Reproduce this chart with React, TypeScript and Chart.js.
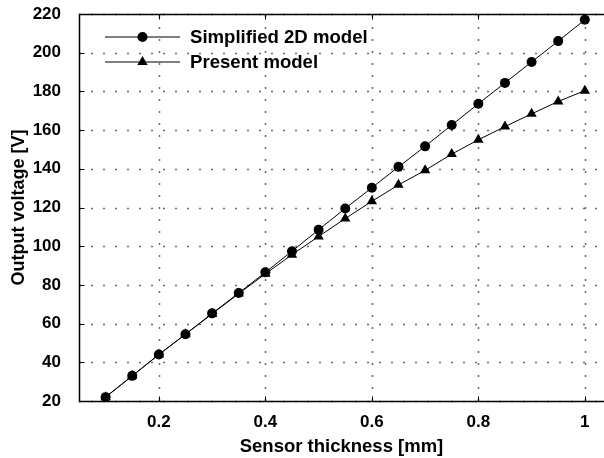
import React, { useEffect, useRef } from 'react';
import { Chart, registerables } from 'chart.js';

Chart.register(...registerables);

const thickness = [0.1, 0.15, 0.2, 0.25, 0.3, 0.35, 0.4, 0.45, 0.5, 0.55, 0.6, 0.65, 0.7, 0.75, 0.8, 0.85, 0.9, 0.95, 1.0];
const simplified2D = [22, 33, 44, 54.5, 65.3, 75.8, 86.5, 97.4, 108.5, 119.5, 130.2, 141, 151.6, 162.6, 173.6, 184.4, 195.2, 206, 217];
const presentModel = [22, 33, 44, 54.5, 65, 75.5, 85.7, 95.6, 105, 114.3, 123.2, 131.7, 139.2, 147.6, 155, 161.8, 168.4, 174.8, 180.4];

const seriesLabels = ['Simplified 2D model', 'Present model'];
const xTicks = [0.2, 0.4, 0.6, 0.8, 1];
const xTickLabels = ['0.2', '0.4', '0.6', '0.8', '1'];
const yTicks = [20, 40, 60, 80, 100, 120, 140, 160, 180, 200, 220];
const xTitle = 'Sensor thickness [mm]';
const yTitle = 'Output voltage [V]';

const FONT = '"Liberation Sans", Arial, Helvetica, sans-serif';

function drawMarker(ctx: CanvasRenderingContext2D, style: string, x: number, y: number, r: number) {
  ctx.beginPath();
  if (style === 'triangle') {
    ctx.moveTo(x, y - r);
    ctx.lineTo(x + 0.866 * r, y + 0.5 * r);
    ctx.lineTo(x - 0.866 * r, y + 0.5 * r);
    ctx.closePath();
  } else {
    ctx.arc(x, y, r, 0, Math.PI * 2);
  }
  ctx.fill();
}

const framePlugin = {
  id: 'frameGrid',
  beforeDatasetsDraw(chart: any) {
    const { ctx, chartArea } = chart;
    const { left, right, top, bottom } = chartArea;
    const xs = chart.scales.x;
    const ys = chart.scales.y;
    ctx.save();
    // dotted grid
    ctx.strokeStyle = '#6a6a6a';
    ctx.lineWidth = 1.5;
    ctx.setLineDash([2, 10]);
    xTicks.forEach((v) => {
      const px = Math.round(xs.getPixelForValue(v)) + 0.5;
      ctx.beginPath();
      ctx.moveTo(px, bottom);
      ctx.lineTo(px, top);
      ctx.stroke();
    });
    yTicks.forEach((v) => {
      const py = Math.round(ys.getPixelForValue(v)) + 0.5;
      ctx.beginPath();
      ctx.moveTo(left, py);
      ctx.lineTo(right, py);
      ctx.stroke();
    });
    ctx.setLineDash([]);
    // frame
    ctx.strokeStyle = '#000';
    ctx.lineWidth = 1.5;
    const l = Math.round(left) + 0.5;
    const t = Math.round(top) + 0.5;
    const b = Math.round(bottom) + 0.5;
    ctx.beginPath();
    ctx.moveTo(right, t);
    ctx.lineTo(l, t);
    ctx.lineTo(l, b);
    ctx.lineTo(right, b);
    ctx.stroke();
    // inward tick marks
    ctx.lineWidth = 1;
    ctx.beginPath();
    xTicks.forEach((v) => {
      const px = Math.round(xs.getPixelForValue(v)) + 0.5;
      ctx.moveTo(px, b);
      ctx.lineTo(px, b - 5);
      ctx.moveTo(px, t);
      ctx.lineTo(px, t + 5);
    });
    yTicks.forEach((v) => {
      const py = Math.round(ys.getPixelForValue(v)) + 0.5;
      ctx.moveTo(l, py);
      ctx.lineTo(l + 5, py);
    });
    ctx.stroke();
    ctx.restore();
  },
  afterDatasetsDraw(chart: any) {
    const { ctx, chartArea } = chart;
    const x0 = chartArea.left + 26;
    const x1 = x0 + 75;
    ctx.save();
    chart.data.datasets.forEach((ds: any, i: number) => {
      const y = chartArea.top + 22.5 + i * 25;
      ctx.strokeStyle = '#000';
      ctx.fillStyle = '#000';
      ctx.lineWidth = 1;
      ctx.beginPath();
      ctx.moveTo(x0, y + 0.5);
      ctx.lineTo(x1, y + 0.5);
      ctx.stroke();
      drawMarker(ctx, ds.pointStyle, (x0 + x1) / 2, y + 0.5, ds.pointRadius);
      ctx.font = `bold 18.6px ${FONT}`;
      ctx.textBaseline = 'middle';
      ctx.textAlign = 'left';
      ctx.fillText(ds.label, x1 + 10, y + 1);
    });
    ctx.restore();
  },
};

export default function App() {
  const ref = useRef<HTMLCanvasElement | null>(null);

  useEffect(() => {
    if (!ref.current) return;
    const chart = new Chart(ref.current, {
      type: 'line',
      data: {
        datasets: [
          {
            label: seriesLabels[0],
            data: thickness.map((x, i) => ({ x, y: simplified2D[i] })),
            borderColor: '#000',
            backgroundColor: '#000',
            borderWidth: 1,
            pointStyle: 'circle',
            pointRadius: 5,
            pointBorderWidth: 0,
            pointBackgroundColor: '#000',
            tension: 0,
          },
          {
            label: seriesLabels[1],
            data: thickness.map((x, i) => ({ x, y: presentModel[i] })),
            borderColor: '#000',
            backgroundColor: '#000',
            borderWidth: 1,
            pointStyle: 'triangle',
            pointRadius: 6,
            pointBorderWidth: 0,
            pointBackgroundColor: '#000',
            tension: 0,
          },
        ],
      },
      options: {
        responsive: false,
        animation: false,
        events: [],
        layout: { autoPadding: false, padding: { top: 14, right: 0, left: 0, bottom: 0 } },
        plugins: { legend: { display: false }, tooltip: { enabled: false } },
        scales: {
          x: {
            type: 'linear',
            min: 0.05,
            max: 1.036,
            grid: { display: false },
            border: { display: false },
            afterBuildTicks: (s: any) => {
              s.ticks = xTicks.map((v) => ({ value: v }));
            },
            afterFit: (s: any) => {
              s.height = 57;
              s.paddingLeft = 0;
              s.paddingRight = 0;
            },
            ticks: {
              autoSkip: false,
              maxRotation: 0,
              padding: 3,
              color: '#000',
              font: { family: FONT, size: 17, weight: 'bold' },
              callback: (v: any) => {
                const idx = xTicks.findIndex((t) => Math.abs(t - Number(v)) < 1e-9);
                return idx >= 0 ? xTickLabels[idx] : '';
              },
            },
            title: {
              display: true,
              text: xTitle,
              color: '#000',
              font: { family: FONT, size: 18.5, weight: 'bold' },
              padding: { top: 0, bottom: 0 },
            },
          },
          y: {
            type: 'linear',
            min: 20,
            max: 220,
            grid: { display: false },
            border: { display: false },
            afterBuildTicks: (s: any) => {
              s.ticks = yTicks.map((v) => ({ value: v }));
            },
            afterFit: (s: any) => {
              s.width = 79;
              s.paddingTop = 0;
              s.paddingBottom = 0;
            },
            ticks: {
              autoSkip: false,
              padding: 10,
              color: '#000',
              font: { family: FONT, size: 17, weight: 'bold' },
              callback: (v: any) => String(v),
            },
            title: {
              display: true,
              text: yTitle,
              color: '#000',
              font: { family: FONT, size: 18, weight: 'bold' },
              padding: { top: 8, bottom: 0 },
            },
          },
        },
      },
      plugins: [framePlugin],
    } as any);
    return () => chart.destroy();
  }, []);

  return (
    <div style={{ position: 'fixed', left: 0, top: 0, width: 604, height: 458, background: '#fff' }}>
      <canvas ref={ref} width={604} height={458} style={{ display: 'block', width: 604, height: 458 }} />
    </div>
  );
}
